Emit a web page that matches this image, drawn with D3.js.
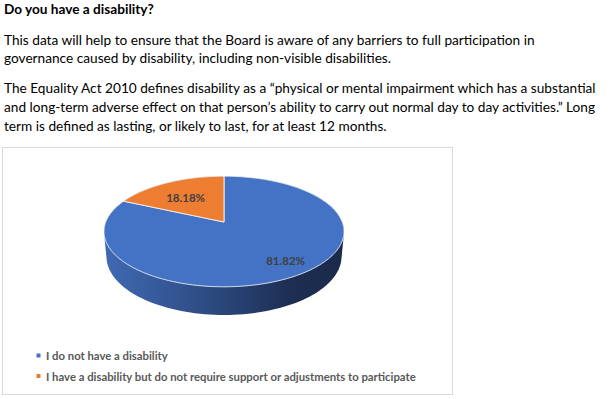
<!DOCTYPE html>
<html>
<head>
<meta charset="utf-8">
<script src="https://cdn.jsdelivr.net/npm/d3@7"></script>
<style>
  html, body { margin: 0; padding: 0; background: #fff; }
  svg { display: block; }
</style>
</head>
<body>
<div id="chart"></div>
<script>
// ---- data ----
const titleText = "Do you have a disability?"
const paragraph1 = [
    "This data will help to ensure that the Board is aware of any barriers to full participation in",
    "governance caused by disability, including non-visible disabilities."
]
const paragraph2 = [
    "The Equality Act 2010 defines disability as a \u201cphysical or mental impairment which has a substantial",
    "and long-term adverse effect on that person\u2019s ability to carry out normal day to day activities.\u201d Long",
    "term is defined as lasting, or likely to last, for at least 12 months."
]
const categories = [
    "I do not have a disability",
    "I have a disability but do not require support or adjustments to participate"
]
const shares = [81.82, 18.18]
const colors = ["#4472C4", "#ED7D31"]

// ---- page ----
const W = 609, H = 399
const svg = d3.select("#chart").append("svg")
              .attr("width", W)
              .attr("height", H)

const bodyFont = "Lato, 'Open Sans', sans-serif"

// scale a block's font so its widest line fits the width seen in the picture
function fitBlock(lines, weight, targetWidth) {
    const probe = svg.append("text")
                     .attr("font-family", bodyFont)
                     .attr("font-weight", weight)
                     .attr("font-size", 100)
    let widest = 0
    lines.forEach(l => {
        probe.text(l)
        widest = Math.max(widest, probe.node().getComputedTextLength())
    })
    probe.remove()
    return 100 * targetWidth / widest
}

function drawBlock(lines, x, y0, lineGap, size, weight, color) {
    svg.append("g").selectAll("text")
       .data(lines)
       .join("text")
       .attr("x", x)
       .attr("y", (d, i) => y0 + i * lineGap)
       .attr("font-family", bodyFont)
       .attr("font-weight", weight)
       .attr("font-size", size)
       .attr("fill", color)
       .text(d => d)
}

const bodySize = fitBlock(paragraph2, 400, 592)
drawBlock([titleText], 4, 14, 0, fitBlock([titleText], 700, 150), 700, "#000")
drawBlock(paragraph1, 4, 44.5, 18.5, bodySize, 400, "#000")
drawBlock(paragraph2, 4, 93, 19, bodySize, 400, "#000")

// ---- chart frame ----
svg.append("rect")
   .attr("x", 2.5).attr("y", 147.5)
   .attr("width", 450).attr("height", 247)
   .attr("fill", "#fff")
   .attr("stroke", "#d9d9d9")
   .attr("stroke-width", 1)

// ---- 3D pie (perspective projection of a tilted disc) ----
const cx = 224, cy = 222          // projected centre of the disc
const focal = 615, dist = 5.2     // perspective
const tilt = 27 * Math.PI / 180
const thick = 0.24                // disc thickness, in radii

function project(X, Y, Z) {
    const yc = Y * Math.cos(tilt) + Z * Math.sin(tilt)
    const zc = dist + Z * Math.cos(tilt) - Y * Math.sin(tilt)
    return [cx + focal * X / zc, cy - focal * yc / zc]
}
const rim = (a, r = 1, Y = 0) => project(r * Math.sin(a), Y, r * Math.cos(a))

const pie = d3.pie().sort(null).value(d => d)
const arcs = pie(shares)
const total = d3.sum(shares)

const defs = svg.append("defs")
const grad = defs.append("linearGradient")
                 .attr("id", "side")
                 .attr("gradientUnits", "userSpaceOnUse")
                 .attr("x1", rim(-Math.PI / 2)[0]).attr("x2", rim(Math.PI / 2)[0])
                 .attr("y1", 0).attr("y2", 0)
grad.append("stop").attr("offset", 0).attr("stop-color", "#4069b3")
grad.append("stop").attr("offset", 0.45).attr("stop-color", "#2c4a80")
grad.append("stop").attr("offset", 0.78).attr("stop-color", "#1d2e53")
grad.append("stop").attr("offset", 1).attr("stop-color", "#1b2a4a")

const line = d3.line()
const steps = d3.range(0, 361, 2).map(d => d * Math.PI / 180)

// side wall: silhouette of top and bottom rims
const hull = d3.polygonHull(steps.map(a => rim(a)).concat(steps.map(a => rim(a, 1, -thick))))
svg.append("path")
   .attr("d", line(hull) + "Z")
   .attr("fill", "url(#side)")

// top face slices
function slicePath(d) {
    const n = Math.max(2, Math.ceil((d.endAngle - d.startAngle) / 0.02))
    const pts = [project(0, 0, 0)]
    for (let i = 0; i <= n; i++) {
        pts.push(rim(d.startAngle + (d.endAngle - d.startAngle) * i / n))
    }
    return line(pts) + "Z"
}

svg.append("g").selectAll("path")
   .data(arcs)
   .join("path")
   .attr("d", slicePath)
   .attr("fill", (d, i) => colors[i])
   .attr("stroke", "#fff")
   .attr("stroke-width", 0.8)
   .attr("stroke-linejoin", "round")

// data labels, bigger slices push their label further out
const labelPos = d => rim((d.startAngle + d.endAngle) / 2 - 0.05, 0.55 + 0.3 * d.value / total)

svg.append("g").selectAll("text")
   .data(arcs)
   .join("text")
   .attr("x", d => labelPos(d)[0])
   .attr("y", d => labelPos(d)[1] + 4)
   .attr("text-anchor", "middle")
   .attr("font-family", bodyFont)
   .attr("font-weight", 700)
   .attr("font-size", 11.5)
   .attr("fill", "#404040")
   .text(d => d.value.toFixed(2) + "%")

// ---- legend ----
const legendSize = fitBlock([categories[1]], 700, 370)
const legend = svg.append("g").selectAll("g")
                  .data(categories)
                  .join("g")
                  .attr("transform", (d, i) => "translate(36, " + (360 + i * 20.5) + ")")

legend.append("rect")
      .attr("x", 0.5).attr("y", -6.5)
      .attr("width", 4).attr("height", 4)
      .attr("fill", (d, i) => colors[i])

legend.append("text")
      .attr("x", 10)
      .attr("font-family", bodyFont)
      .attr("font-weight", 700)
      .attr("font-size", legendSize)
      .attr("fill", "#595959")
      .text(d => d)
</script>
</body>
</html>
